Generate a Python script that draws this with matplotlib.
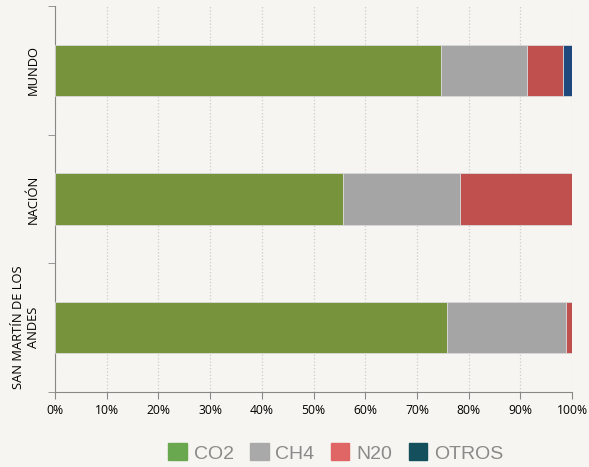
import matplotlib.pyplot as plt
import numpy as np
from matplotlib.patches import Patch
from matplotlib.ticker import FuncFormatter

# data (percent shares)
categories = ["MUNDO", "NACIÓN", "SAN MARTÍN DE LOS\nANDES"]
gases = ["CO2", "CH4", "N20", "OTROS"]
co2 = [74.6, 55.6, 75.8]
ch4 = [16.6, 22.7, 23.1]
n2o = [7.0, 21.6, 1.1]
otros = [1.8, 0.1, 0.0]

bar_colors = ["#77933c", "#a5a5a5", "#c0504d", "#1f497d"]
legend_colors = ["#6aa84f", "#a9a9a9", "#e06666", "#134f5c"]
bg = "#f6f5f1"

plt.rcParams["font.family"] = ["Open Sans", "DejaVu Sans"]

fig = plt.figure(figsize=(5.89, 4.67), dpi=100, facecolor=bg)
ax = fig.add_axes([0.0934, 0.161, 0.878, 0.826], facecolor=bg)

y = np.arange(len(categories))
left = np.zeros(len(categories))
for vals, col in zip([co2, ch4, n2o, otros], bar_colors):
    ax.barh(y, vals, left=left, height=0.4, color=col,
            edgecolor="#d9d9d9", linewidth=0.6, zorder=3)
    left += np.array(vals)

ax.set_xlim(0, 100)
ax.set_ylim(len(categories) - 0.5, -0.5)
ax.set_xticks(np.arange(0, 101, 10))
ax.xaxis.set_major_formatter(FuncFormatter(lambda v, p: f"{v:.0f}%"))
ax.set_yticks(y)
ax.set_yticklabels(categories, rotation=90, va="center", ha="right",
                   multialignment="center", fontsize=9.3)
ax.set_yticks([-0.5, 0.5, 1.5, 2.5], minor=True)
ax.tick_params(axis="y", which="major", length=0, pad=11)
ax.tick_params(axis="y", which="minor", length=5, color="#888888")
ax.tick_params(axis="x", length=5, color="#888888", labelsize=8.7, pad=4)

ax.grid(axis="x", color="#cccccc", linestyle=":", linewidth=0.9, zorder=0)
for s in ["top", "right"]:
    ax.spines[s].set_visible(False)
for s in ["left", "bottom"]:
    ax.spines[s].set_color("#888888")

handles = [Patch(facecolor=c, edgecolor=c) for c in legend_colors]
leg = fig.legend(handles, gases, loc="center", bbox_to_anchor=(0.57, 0.03),
                 ncol=4, frameon=False, handlelength=0.95,
                 handleheight=0.95, handletextpad=0.35, columnspacing=0.85,
                 labelcolor="#8a8a8a",
                 prop={"family": "Liberation Sans", "size": 14})

fig.savefig("out.png", dpi=100, facecolor=bg)
